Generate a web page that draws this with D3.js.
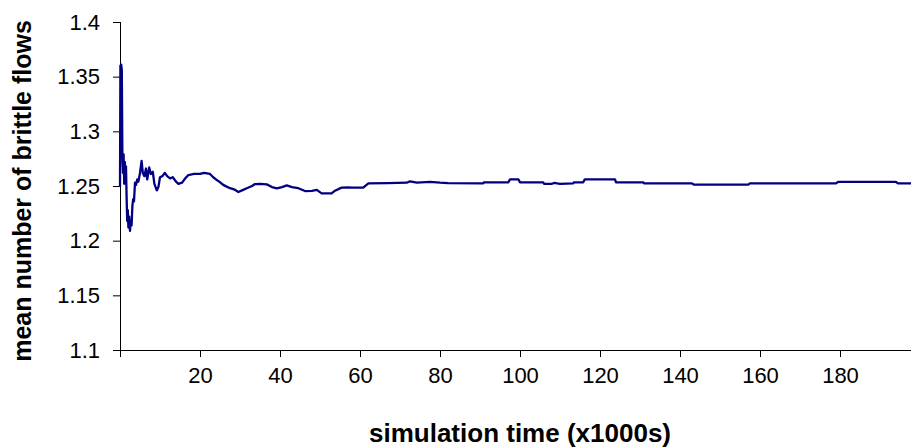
<!DOCTYPE html>
<html>
<head>
<meta charset="utf-8">
<script src="https://cdn.jsdelivr.net/npm/d3@7"></script>
<style>
  body { margin: 0; background: #fff; }
  svg { display: block; font-family: Arial, "Liberation Sans", sans-serif; }
</style>
</head>
<body>
<script>
const width = 911;
const height = 448;

// simulation time (x1000s)
const times = [
  0, 0.1, 0.3, 0.45, 0.6, 0.75, 0.9, 1.05, 1.2, 1.35, 1.5, 1.65, 1.8, 1.95, 2.1, 2.3, 2.5, 2.7, 2.9,
  3.1, 3.3, 3.5, 3.75, 4.0, 4.3, 4.6, 5.0, 5.4, 5.7, 6.1, 6.5, 6.8, 7.3, 7.7, 8.2, 8.6, 9.2, 9.6,
  10.0, 10.6, 11.2, 11.8, 12.5, 13.2, 14.0, 14.6, 15.5, 16.3, 17.1, 18.5, 20, 21, 22.5, 23.3, 24,
  24.8, 25.8, 27.5, 28.5, 29.6, 30.5, 31.7, 33, 33.75, 35, 36.7, 38, 39.2, 40.5, 41.7, 43, 44.6,
  46.25, 48, 49.2, 50.4, 52.9, 53.75, 55.4, 57, 58, 60.8, 62.1, 67, 71.7, 72.5, 74.2, 77.5, 80,
  82, 90.8, 91, 97.1, 97.5, 99.6, 100, 105.8, 106, 108, 108.5, 110, 113.3, 113.5, 115.8,
  116.2, 123.75, 124, 130.8, 131, 143, 143.5, 157, 157.5, 179, 179.5, 194, 194.5, 197.75
];

// mean number of brittle flows
const meanFlows = [
  1.249, 1.360, 1.361, 1.356, 1.275, 1.262, 1.279, 1.252, 1.272, 1.262, 1.268, 1.240, 1.218, 1.228, 1.212, 1.222, 1.209, 1.219, 1.214,
  1.232, 1.238, 1.236, 1.253, 1.251, 1.256, 1.254, 1.262, 1.273, 1.262, 1.259, 1.266, 1.256, 1.267, 1.261, 1.263, 1.252, 1.246, 1.249,
  1.258, 1.259, 1.262, 1.259, 1.257, 1.258, 1.254, 1.252, 1.253, 1.257, 1.260, 1.261, 1.261, 1.262, 1.261, 1.258, 1.256,
  1.254, 1.251, 1.248, 1.247, 1.2445, 1.246, 1.248, 1.250, 1.2518, 1.252, 1.2515, 1.249, 1.2478, 1.249, 1.2505, 1.249, 1.248,
  1.2454, 1.2455, 1.2465, 1.2433, 1.2433, 1.2457, 1.2485, 1.2488, 1.2485, 1.2485, 1.2524, 1.2527, 1.253, 1.2543, 1.253, 1.2537, 1.253,
  1.2527, 1.2524, 1.2534, 1.2534, 1.2561, 1.2561, 1.2534, 1.2534, 1.2520, 1.2520, 1.2528, 1.2520, 1.2524, 1.2534, 1.2534,
  1.2561, 1.2561, 1.2534, 1.2534, 1.2524, 1.2524, 1.2512, 1.2512, 1.2524, 1.2524, 1.2537, 1.2537, 1.2524, 1.2524
];

const xTicks = [0, 20, 40, 60, 80, 100, 120, 140, 160, 180];
const yTicks = [1.1, 1.15, 1.2, 1.25, 1.3, 1.35, 1.4];

const svg = d3.select("body").append("svg")
    .attr("width", width)
    .attr("height", height);

const x = d3.scaleLinear().domain([0, 197.75]).range([120, 911]);
const y = d3.scaleLinear().domain([1.1, 1.4]).range([350, 22]);

// x axis
const xAxis = svg.append("g")
    .attr("transform", "translate(0,350)")
    .call(d3.axisBottom(x)
        .tickValues(xTicks)
        .tickSize(7)
        .tickSizeOuter(0)
        .tickFormat(d => d === 0 ? "" : d));
xAxis.select(".domain").attr("d", "M113,0.5H911");
xAxis.selectAll("text")
    .attr("y", 17)
    .attr("dy", "0.71em")
    .style("font-size", "22px")
    .attr("fill", "#000");

// y axis
const yAxis = svg.append("g")
    .attr("transform", "translate(120,0)")
    .call(d3.axisLeft(y)
        .tickValues(yTicks)
        .tickSize(7)
        .tickSizeOuter(0)
        .tickFormat(d3.format("")));
yAxis.select(".domain").attr("d", "M0.5,22V357");
yAxis.selectAll("text")
    .attr("x", -20)
    .style("font-size", "22px")
    .attr("fill", "#000");

// line
const line = d3.line()
    .x((d, i) => x(times[i]))
    .y(d => y(d));

svg.append("path")
    .datum(meanFlows)
    .attr("fill", "none")
    .attr("stroke", "#000080")
    .attr("stroke-width", 2.3)
    .attr("stroke-linejoin", "round")
    .attr("d", line);

// axis titles
svg.append("text")
    .attr("x", 520)
    .attr("y", 442)
    .attr("text-anchor", "middle")
    .style("font-size", "26px")
    .style("font-weight", "bold")
    .text("simulation time (x1000s)");

svg.append("text")
    .attr("transform", "translate(31,191) rotate(-90)")
    .attr("text-anchor", "middle")
    .style("font-size", "25px")
    .style("font-weight", "bold")
    .text("mean number of brittle flows");
</script>
</body>
</html>
